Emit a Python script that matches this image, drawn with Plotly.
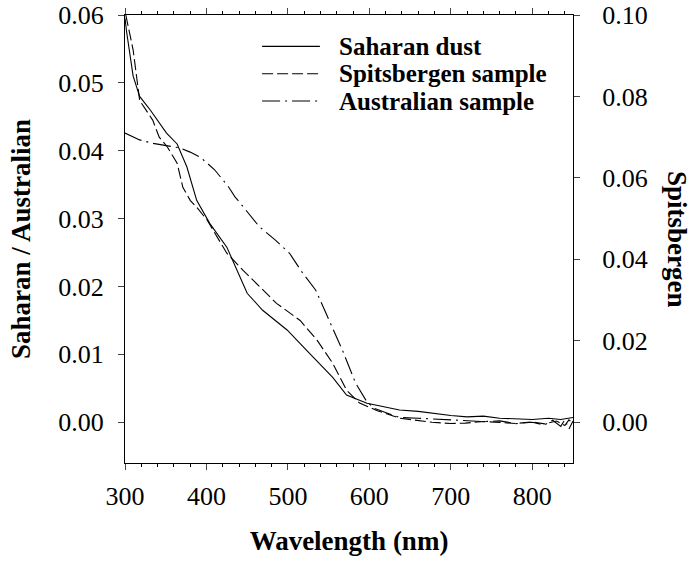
import plotly.graph_objects as go

# Saharan dust (left axis)
sah_x = [300, 302, 310, 318, 331, 351, 364, 376, 388, 404, 425, 450, 469, 499, 523, 555, 572,
         597, 609, 637, 660, 677, 700, 720, 740, 760, 780, 800, 820, 835, 850]
sah_y = [0.0595, 0.0575, 0.051, 0.048, 0.046, 0.0426, 0.041, 0.0376, 0.0327, 0.0293, 0.0258,
         0.019, 0.0165, 0.0136, 0.0106, 0.0066, 0.004, 0.0028, 0.0025, 0.0018, 0.0016, 0.0013,
         0.0010, 0.0008, 0.0009, 0.0006, 0.0005, 0.0004, 0.0006, 0.0004, 0.0007]

# Spitsbergen sample (right axis)
spi_x = [301, 305, 310, 318, 334, 342, 352, 364, 371, 380, 388, 401, 425, 445, 466, 486, 515,
         536, 555, 572, 588, 609, 637, 660, 677, 700, 718, 740, 760, 780, 800, 815, 830, 840, 845, 850]
spi_y = [0.100, 0.096, 0.0914, 0.079, 0.0742, 0.070, 0.0676, 0.0636, 0.0577, 0.0545, 0.0528,
         0.0496, 0.0415, 0.0373, 0.0332, 0.0292, 0.025, 0.0201, 0.0145, 0.0079, 0.0047, 0.0029,
         0.0010, 0.0004, 0.0, -0.0003, -0.0002, 0.0002, 0.0, -0.0003, 0.0001, -0.0004, 0.0003,
         -0.0008, 0.0006, -0.0003]

# Australian sample (left axis)
aus_x = [300, 318, 334, 351, 368, 380, 393, 410, 427, 435, 440, 465, 485, 502, 518, 534, 551,
         567, 583, 596, 605, 637, 660, 677, 700, 720, 740, 760, 780, 800, 815, 825, 835, 840, 845, 850]
aus_y = [0.0426, 0.0416, 0.0411, 0.0408, 0.0404, 0.0398, 0.039, 0.0372, 0.0347, 0.0332, 0.0325,
         0.0288, 0.0268, 0.0249, 0.022, 0.0195, 0.015, 0.0106, 0.0058, 0.0032, 0.0021, 0.0007,
         0.0006, 0.0005, 0.0004, 0.0003, 0.0001, 0.0002, -0.0002, 0.0, -0.0004, 0.0003, -0.0006,
         0.0004, -0.0010, 0.0002]

series_names = ["Saharan dust", "Spitsbergen sample", "Australian sample"]
series_dash = ["solid", "11px,4px", "18px,5px,2px,5px"]

x_ticks = [300, 400, 500, 600, 700, 800]
left_ticks = [0.00, 0.01, 0.02, 0.03, 0.04, 0.05, 0.06]
right_ticks = [0.00, 0.02, 0.04, 0.06, 0.08, 0.10]

FONT = "Liberation Serif"
line_w = 1.1
TICK_SIZE = 26
TITLE_SIZE = 27
LEGEND_SIZE = 25

fig = go.Figure()
fig.add_trace(go.Scatter(x=sah_x, y=sah_y, mode="lines", name=series_names[0],
                         line=dict(color="black", width=line_w, dash=series_dash[0])))
fig.add_trace(go.Scatter(x=spi_x, y=spi_y, mode="lines", name=series_names[1], yaxis="y2",
                         line=dict(color="black", width=line_w, dash=series_dash[1])))
fig.add_trace(go.Scatter(x=aus_x, y=aus_y, mode="lines", name=series_names[2],
                         line=dict(color="black", width=line_w, dash=series_dash[2])))

fig.update_layout(
    width=698, height=564,
    margin=dict(l=125, r=125, t=15, b=101),
    paper_bgcolor="white", plot_bgcolor="white",
    font=dict(family=FONT, size=TICK_SIZE, color="black"),
    showlegend=False,
    xaxis=dict(range=[300, 850], tickvals=x_ticks, ticks="outside", ticklen=6, tickwidth=1,
               showline=True, linecolor="black", linewidth=1, mirror="ticks",
               showgrid=False, zeroline=False, automargin=False, ticklabelstandoff=4,
               ticklabeloverflow="allow",
               minor=dict(dtick=20, ticks="outside", ticklen=3, tickwidth=1, tickcolor="black"),
               tickfont=dict(family=FONT, size=TICK_SIZE),
               title=dict(text="<b>Wavelength (nm)</b>", font=dict(family=FONT, size=TITLE_SIZE), standoff=20)),
    yaxis=dict(range=[-0.006, 0.06], tickvals=left_ticks, tickformat=".2f",
               ticks="outside", ticklen=6, tickwidth=1, ticklabelstandoff=9,
               ticklabeloverflow="allow",
               showline=True, linecolor="black", linewidth=1, automargin=False,
               showgrid=False, zeroline=False, tickfont=dict(family=FONT, size=TICK_SIZE),
               title=dict(text="<b>Saharan / Australian</b>", font=dict(family=FONT, size=TITLE_SIZE), standoff=19)),
    yaxis2=dict(range=[-0.01, 0.10], tickvals=right_ticks, tickformat=".2f",
                overlaying="y", side="right", ticks="outside", ticklen=6, tickwidth=1,
                ticklabelstandoff=17, automargin=False, ticklabeloverflow="allow",
                showline=True, linecolor="black", linewidth=1,
                showgrid=False, zeroline=False, tickfont=dict(family=FONT, size=TICK_SIZE)),
)

# Legend drawn in paper coordinates (sample line + bold label)
legend_rows_y = [0.930, 0.869, 0.808]
for name, dash, ly in zip(series_names, series_dash, legend_rows_y):
    fig.add_shape(type="line", xref="paper", yref="paper", x0=0.306, x1=0.435, y0=ly, y1=ly,
                  line=dict(color="black", width=line_w, dash=dash))
    fig.add_annotation(text="<b>" + name + "</b>", xref="paper", yref="paper", x=0.475, y=ly,
                       xanchor="left", yanchor="middle", showarrow=False, borderpad=0,
                       font=dict(family=FONT, size=LEGEND_SIZE, color="black"))

fig.add_annotation(text="<b>Spitsbergen</b>", textangle=90, xref="paper", yref="paper",
                   x=1.0, xshift=104, xanchor="center", y=0.5, showarrow=False,
                   font=dict(family=FONT, size=TITLE_SIZE, color="black"))

fig.write_html("out.html", config={"displayModeBar": False},
               post_script="document.body.style.margin='0';document.body.style.overflow='hidden';")
